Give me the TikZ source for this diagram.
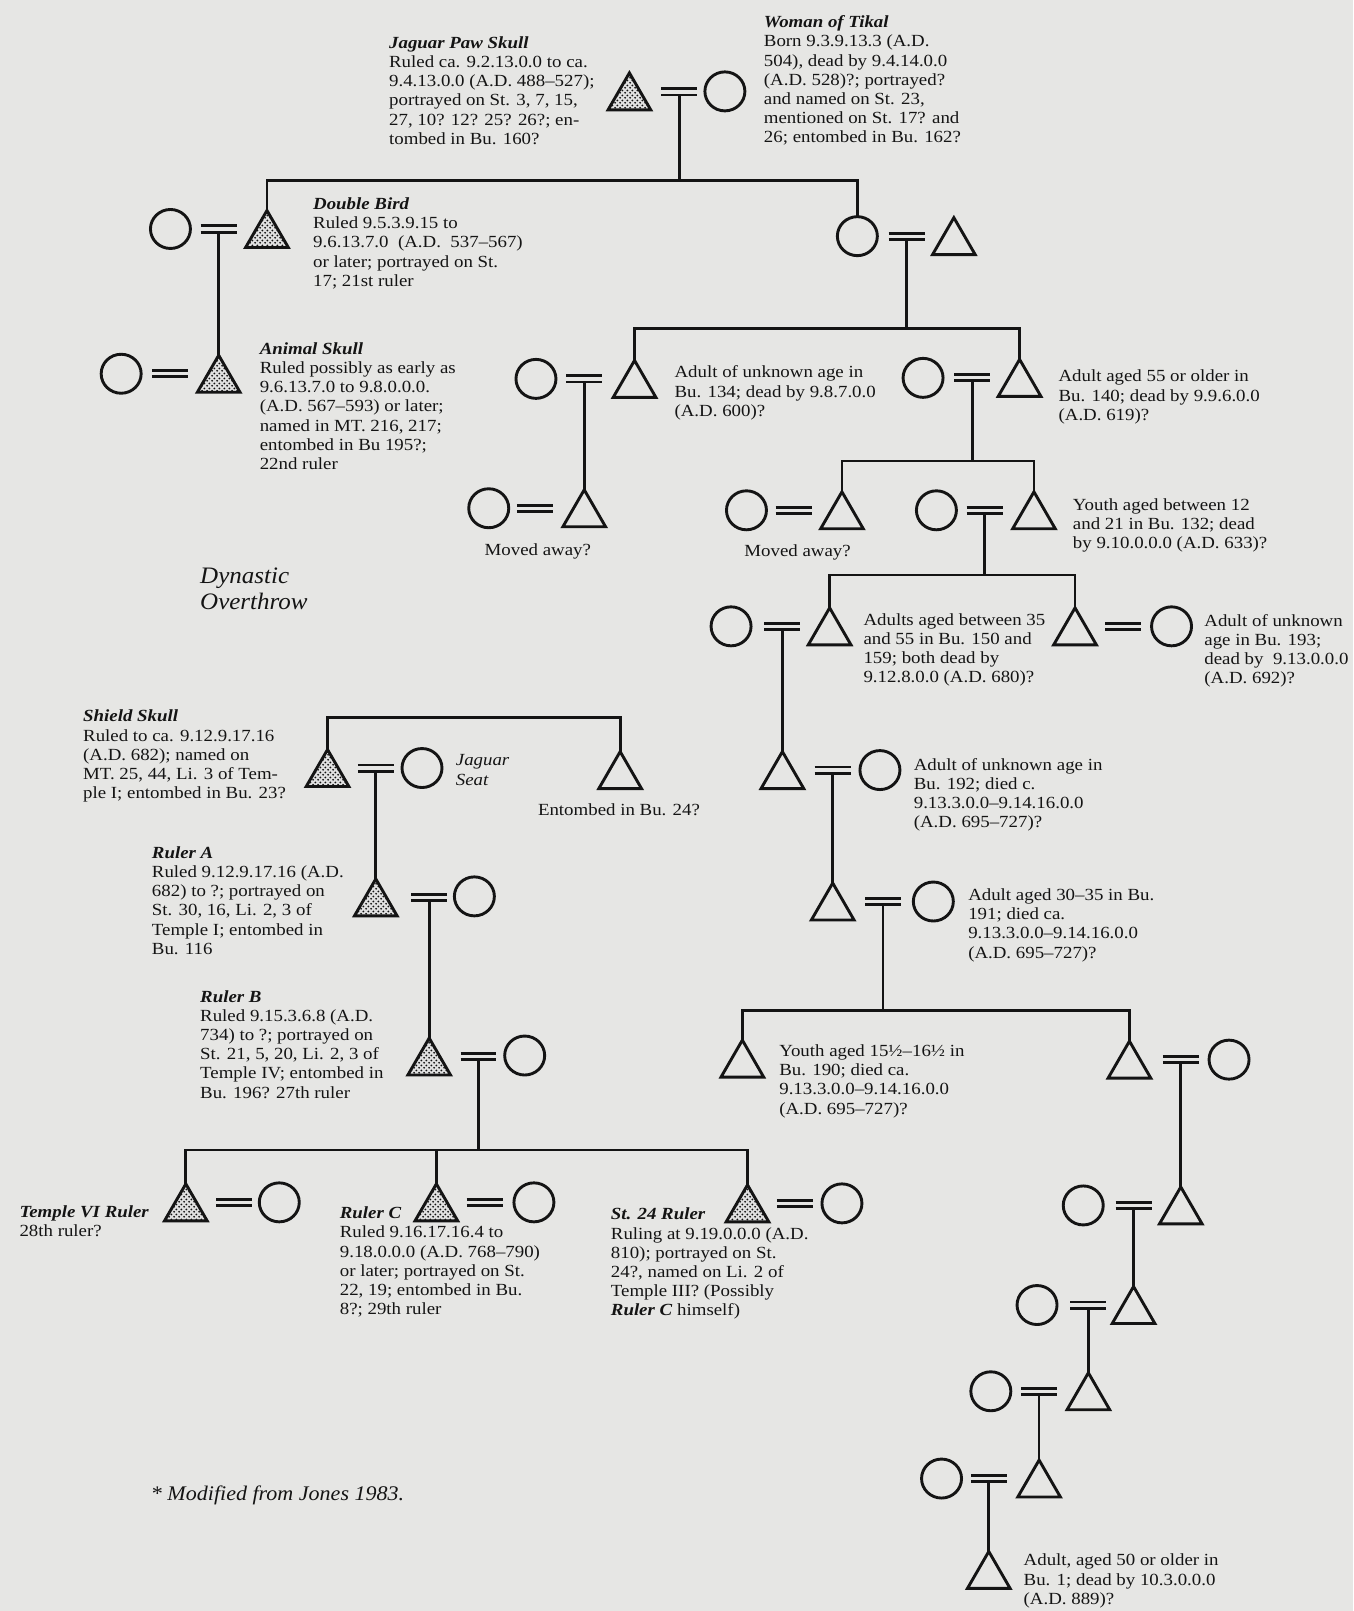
\documentclass[tikz,border=0pt]{standalone}
\usepackage{fontspec}
\setmainfont{Liberation Serif}[FakeStretch=1.11]
\newfontfamily\capfont{Liberation Serif}[FakeStretch=1.06]
\usetikzlibrary{shapes.geometric,patterns}
\definecolor{bg}{HTML}{E6E6E4}
\definecolor{ink}{HTML}{141414}
\pgfdeclarepatternformonly{finedots}{\pgfqpoint{0pt}{0pt}}{\pgfqpoint{2.4pt}{2.4pt}}{\pgfqpoint{2.4pt}{2.4pt}}{%
  \pgfpathcircle{\pgfqpoint{0.6pt}{0.6pt}}{0.52pt}%
  \pgfpathcircle{\pgfqpoint{1.8pt}{1.8pt}}{0.52pt}%
  \pgfusepath{fill}}
\newcommand{\bodyf}{\fontsize{8.5pt}{9.6pt}\selectfont}
\newcommand{\ttl}[1]{\textbf{\textit{#1}}}
\newcommand{\blk}[1]{\begin{tabular}[t]{@{}l@{}}#1\end{tabular}}
\tikzset{
  kin/.style={line width=1.35pt, draw=ink},
  barline/.style={line width=1.45pt, draw=ink},
  tri/.style={regular polygon, regular polygon sides=3, minimum size=24.65pt,
    inner sep=0pt, outer sep=0pt, draw=ink, line width=1.45pt},
  shtri/.style={tri, preaction={fill=white!88!black}, pattern=finedots, pattern color=ink},
  circ/.style={ellipse, minimum width=20pt, minimum height=19.5pt, inner sep=0pt,
    outer sep=0pt, draw=ink, line width=1.45pt},
  txt/.style={anchor=base west, inner sep=0pt, outer sep=0pt, font=\bodyf, text=ink},
}
\newcommand{\kTri}[4][tri]{\node[#1] (#2) at (#3,#4+6) {};}
\newcommand{\kCirc}[3]{\node[circ] (#1) at (#2,#3) {};}
\newcommand{\kBars}[3]{\coordinate (#1) at (#2,#3);\coordinate (#1d) at (#2,#3+3);
  \draw[barline] ([shift={(-17.5,-3)}]#1) -- ([shift={(17.5,-3)}]#1)
                 ([shift={(-17.5,3)}]#1) -- ([shift={(17.5,3)}]#1);}
\begin{document}
\begin{tikzpicture}[x=0.5135pt,y=-0.5135pt]
\fill[bg] (0,0) rectangle (1318,1569);
\useasboundingbox (0,0) rectangle (1318,1569);

% horizontal levels
\coordinate (h1) at (0,176);
\coordinate (h2) at (0,320);
\coordinate (h3) at (0,449);
\coordinate (h4) at (0,560);
\coordinate (h5) at (0,984);
\coordinate (h6) at (0,699);
\coordinate (h7) at (0,1120);

% generation 1
\kTri[shtri]{jps}{613}{89}
\kBars{m1}{661.5}{89.5}
\kCirc{wot}{706}{89}

% generation 2
\kCirc{dbc}{166}{223}
\kBars{m2}{213}{223}
\kTri[shtri]{dbird}{260}{223}
\kCirc{c2}{835}{230}
\kBars{m3}{883}{230}
\kTri{t2}{929}{230}

% Animal Skull
\kCirc{asc}{118}{364}
\kBars{m4}{166}{364}
\kTri[shtri]{asku}{213}{364}

% generation 3 right
\kCirc{c5}{522}{369}
\kBars{m5}{569}{369}
\kTri{t5}{618}{369}
\kCirc{c6}{899}{368}
\kBars{m6}{947}{368}
\kTri{t6}{993}{368}

\kCirc{c7}{476}{495}
\kBars{m7}{521}{495}
\kTri{t7}{569}{495}

\kCirc{c8}{727}{497}
\kBars{m8}{773}{497}
\kTri{t8}{820}{497}
\kCirc{c9}{912}{497}
\kBars{m9}{959}{497}
\kTri{t9}{1007}{497}

\kCirc{c10}{712}{610}
\kBars{m10}{762}{610}
\kTri{t10}{808}{610}
\kTri{t11}{1047}{610}
\kBars{m11}{1094}{610}
\kCirc{c11}{1141}{610}

\kTri{t12}{762}{750}
\kBars{m12}{811}{750}
\kCirc{c12}{857}{750}

\kTri{t13}{811}{878}
\kBars{m13}{860}{878}
\kCirc{c13}{909}{878}

\kTri{t14}{723}{1031}
\kTri{t15}{1100}{1032}
\kBars{m15}{1150}{1032}
\kCirc{c15}{1197}{1032}

\kCirc{c16}{1055}{1174}
\kBars{m16}{1104}{1174}
\kTri{t16}{1150}{1174}
\kCirc{c17}{1010}{1271}
\kBars{m17}{1060}{1271}
\kTri{t17}{1104}{1271}
\kCirc{c18}{965}{1355}
\kBars{m18}{1012}{1355}
\kTri{t18}{1060}{1355}
\kCirc{c19}{917}{1440}
\kBars{m19}{963}{1440}
\kTri{t19}{1012}{1440}
\kTri{t20}{963}{1529}

% lower left dynasty
\kTri[shtri]{shsk}{319}{748}
\kBars{m21}{366}{748}
\kCirc{jseat}{411}{748}
\kTri{ent}{604}{750}
\kTri[shtri]{ra}{366}{874}
\kBars{m22}{418}{874}
\kCirc{c22}{462}{873}
\kTri[shtri]{rb}{418}{1029}
\kBars{m23}{466}{1029}
\kCirc{c23}{511}{1028}
\kTri[shtri]{t6r}{181}{1171}
\kBars{m24}{228}{1171}
\kCirc{c24}{272}{1171}
\kTri[shtri]{rc}{425}{1171}
\kBars{m25}{472}{1171}
\kCirc{c25}{520}{1171}
\kTri[shtri]{st24}{728}{1172}
\kBars{m26}{774}{1172}
\kCirc{c26}{820}{1172}

% descent lines
\draw[kin] (m1d) -- (m1d |- h1);
\draw[kin] (dbird.corner 1) -- (dbird.corner 1 |- h1) -- (c2.north |- h1) -- (c2.north);
\draw[kin] (m2d) -- (asku.corner 1);
\draw[kin] (m3d) -- (m3d |- h2);
\draw[kin] (t5.corner 1) -- (t5.corner 1 |- h2) -- (t6.corner 1 |- h2) -- (t6.corner 1);
\draw[kin] (m5d) -- (t7.corner 1);
\draw[kin] (m6d) -- (m6d |- h3);
\draw[kin] (t8.corner 1) -- (t8.corner 1 |- h3) -- (t9.corner 1 |- h3) -- (t9.corner 1);
\draw[kin] (m9d) -- (m9d |- h4);
\draw[kin] (t10.corner 1) -- (t10.corner 1 |- h4) -- (t11.corner 1 |- h4) -- (t11.corner 1);
\draw[kin] (m10d) -- (t12.corner 1);
\draw[kin] (m12d) -- (t13.corner 1);
\draw[kin] (m13d) -- (m13d |- h5);
\draw[kin] (t14.corner 1) -- (t14.corner 1 |- h5) -- (t15.corner 1 |- h5) -- (t15.corner 1);
\draw[kin] (m15d) -- (t16.corner 1);
\draw[kin] (m16d) -- (t17.corner 1);
\draw[kin] (m17d) -- (t18.corner 1);
\draw[kin] (m18d) -- (t19.corner 1);
\draw[kin] (m19d) -- (t20.corner 1);
\draw[kin] (shsk.corner 1) -- (shsk.corner 1 |- h6) -- (ent.corner 1 |- h6) -- (ent.corner 1);
\draw[kin] (m21d) -- (ra.corner 1);
\draw[kin] (m22d) -- (rb.corner 1);
\draw[kin] (m23d) -- (m23d |- h7);
\draw[kin] (t6r.corner 1) -- (t6r.corner 1 |- h7) -- (st24.corner 1 |- h7) -- (st24.corner 1);
\draw[kin] (rc.corner 1) -- (rc.corner 1 |- h7);

% texts
\node[txt] (x1) at (379,47) {\blk{\ttl{Jaguar Paw Skull}\\Ruled ca. 9.2.13.0.0 to ca.\\9.4.13.0.0 (A.D. 488–527);\\portrayed on St. 3, 7, 15,\\27, 10? 12? 25? 26?; en-\\tombed in Bu. 160?}};
\node[txt] (x2) at (744,27) {\blk{\ttl{Woman of Tikal}\\Born 9.3.9.13.3 (A.D.\\504), dead by 9.4.14.0.0\\(A.D. 528)?; portrayed?\\and named on St. 23,\\mentioned on St. 17? and\\26; entombed in Bu. 162?}};
\node[txt] (x3) at (305,204) {\blk{\ttl{Double Bird}\\Ruled 9.5.3.9.15 to\\9.6.13.7.0 ~(A.D. ~537–567)\\or later; portrayed on St.\\17; 21st ruler}};
\node[txt] (x4) at (253,345) {\blk{\ttl{Animal Skull}\\Ruled possibly as early as\\9.6.13.7.0 to 9.8.0.0.0.\\(A.D. 567–593) or later;\\named in MT. 216, 217;\\entombed in Bu 195?;\\22nd ruler}};
\node[txt] (x5) at (657,368) {\blk{Adult of unknown age in\\Bu. 134; dead by 9.8.7.0.0\\(A.D. 600)?}};
\node[txt] (x6) at (1031,372) {\blk{Adult aged 55 or older in\\Bu. 140; dead by 9.9.6.0.0\\(A.D. 619)?}};
\node[txt] (x7) at (472,541) {Moved away?};
\node[txt] (x8) at (725,542) {Moved away?};
\node[txt] (x9) at (1045,497) {\blk{Youth aged between 12\\and 21 in Bu. 132; dead\\by 9.10.0.0.0 (A.D. 633)?}};
\node[txt] (x10) at (195,568) {\capfont\itshape\fontsize{11.8pt}{13.3pt}\selectfont\blk{Dynastic\\Overthrow}};
\node[txt] (x11) at (841,609) {\blk{Adults aged between 35\\and 55 in Bu. 150 and\\159; both dead by\\9.12.8.0.0 (A.D. 680)?}};
\node[txt] (x12) at (1173,610) {\blk{Adult of unknown\\age in Bu. 193;\\dead by ~9.13.0.0.0\\(A.D. 692)?}};
\node[txt] (x13) at (81,703) {\blk{\ttl{Shield Skull}\\Ruled to ca. 9.12.9.17.16\\(A.D. 682); named on\\MT. 25, 44, Li. 3 of Tem-\\ple I; entombed in Bu. 23?}};
\node[txt] (x14) at (444,746) {\itshape\blk{Jaguar\\Seat}};
\node[txt] (x15) at (524,794) {Entombed in Bu. 24?};
\node[txt] (x16) at (890,750) {\blk{Adult of unknown age in\\Bu. 192; died c.\\9.13.3.0.0–9.14.16.0.0\\(A.D. 695–727)?}};
\node[txt] (x17) at (148,836) {\blk{\ttl{Ruler A}\\Ruled 9.12.9.17.16 (A.D.\\682) to ?; portrayed on\\St. 30, 16, Li. 2, 3 of\\Temple I; entombed in\\Bu. 116}};
\node[txt] (x18) at (943,877) {\blk{Adult aged 30–35 in Bu.\\191; died ca.\\9.13.3.0.0–9.14.16.0.0\\(A.D. 695–727)?}};
\node[txt] (x19) at (195,976) {\blk{\ttl{Ruler B}\\Ruled 9.15.3.6.8 (A.D.\\734) to ?; portrayed on\\St. 21, 5, 20, Li. 2, 3 of\\Temple IV; entombed in\\Bu. 196? 27th ruler}};
\node[txt] (x20) at (759,1029) {\blk{Youth aged 15½–16½ in\\Bu. 190; died ca.\\9.13.3.0.0–9.14.16.0.0\\(A.D. 695–727)?}};
\node[txt] (x21) at (19,1186) {\blk{\ttl{Temple VI Ruler}\\28th ruler?}};
\node[txt] (x22) at (331,1187) {\blk{\ttl{Ruler C}\\Ruled 9.16.17.16.4 to\\9.18.0.0.0 (A.D. 768–790)\\or later; portrayed on St.\\22, 19; entombed in Bu.\\8?; 29th ruler}};
\node[txt] (x23) at (595,1188) {\blk{\ttl{St. 24 Ruler}\\Ruling at 9.19.0.0.0 (A.D.\\810); portrayed on St.\\24?, named on Li. 2 of\\Temple III? (Possibly\\\ttl{Ruler C} himself)}};
\node[txt] (x24) at (147,1461) {\capfont\itshape\fontsize{10.4pt}{12pt}\selectfont * Modified from Jones 1983.};
\node[txt] (x25) at (997,1525) {\blk{Adult, aged 50 or older in\\Bu. 1; dead by 10.3.0.0.0\\(A.D. 889)?}};
\end{tikzpicture}
\end{document}
